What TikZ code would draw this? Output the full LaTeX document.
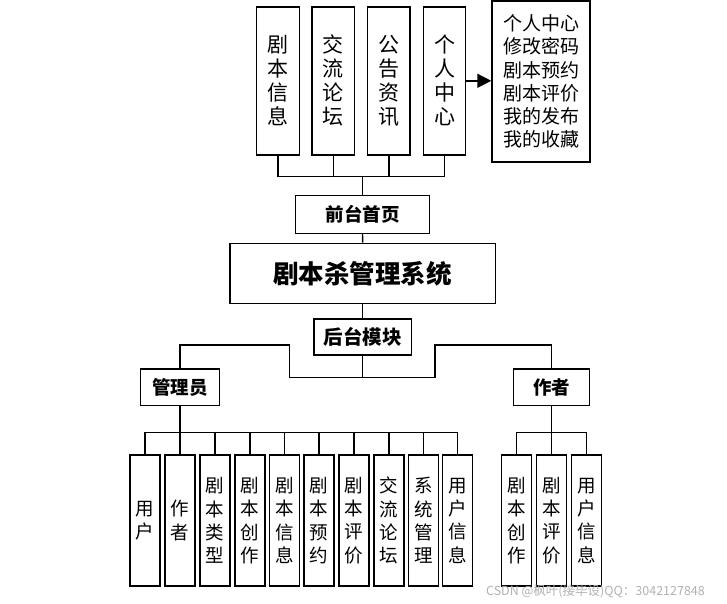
\documentclass[tikz,border=0pt]{standalone}
\usepackage{fontspec}
\setmainfont{Noto Sans CJK SC}
\usetikzlibrary{arrows.meta}
\begin{document}
\begin{tikzpicture}[x=1pt,y=-1pt,line width=1.4pt,line join=miter,
  tbox/.style={draw, minimum width=42.5pt, minimum height=148pt, inner sep=0pt, align=center, font=\fontsize{21}{24}\selectfont},
  leaf/.style={draw, minimum width=30pt, minimum height=131pt, inner sep=0pt, align=center, font=\fontsize{18.5}{23.3}\selectfont},
  hbox/.style={draw, inner sep=0pt, font=\bfseries\fontsize{18.5}{22}\selectfont},
  conn/.style={draw, line width=1.4pt}]
\fill[white] (0,0) rectangle (727,603);
\useasboundingbox (0,0) rectangle (727,603);
% top row
\node[tbox] (T1) at (278,80.8) {剧\\本\\信\\息};
\node[tbox] (T2) at (333.2,80.8) {交\\流\\论\\坛};
\node[tbox] (T3) at (388.8,80.8) {公\\告\\资\\讯};
\node[tbox] (T4) at (444.5,80.8) {个\\人\\中\\心};
\node[draw, minimum width=98pt, minimum height=161pt, inner sep=0pt, align=center, font=\fontsize{19}{23.3}\selectfont] (R) at (541,81.5)
  {个人中心\\修改密码\\剧本预约\\剧本评价\\我的发布\\我的收藏};
\node[hbox, minimum width=133.6pt, minimum height=37.6pt] (F) at (362.5,214.5) {前台首页};
\node[hbox, minimum width=265.3pt, minimum height=60pt, font=\bfseries\fontsize{25.5}{30}\selectfont] (M) at (362.7,273.3) {剧本杀管理系统};
\node[hbox, minimum width=97.3pt, minimum height=36pt, font=\bfseries\fontsize{19.5}{23}\selectfont] (B) at (362.7,337) {后台模块};
\node[hbox, minimum width=78.6pt, minimum height=36.3pt] (A) at (180,387.2) {管理员};
\node[hbox, minimum width=75.6pt, minimum height=36.3pt] (Z) at (551.5,387.2) {作者};
% admin leaves
\node[leaf] (L1) at (145,520.5) {用\\户};
\node[leaf] (L2) at (180,520.5) {作\\者};
\node[leaf] (L3) at (215,520.5) {剧\\本\\类\\型};
\node[leaf] (L4) at (250,520.5) {剧\\本\\创\\作};
\node[leaf] (L5) at (284.5,520.5) {剧\\本\\信\\息};
\node[leaf] (L6) at (319,520.5) {剧\\本\\预\\约};
\node[leaf] (L7) at (354,520.5) {剧\\本\\评\\价};
\node[leaf] (L8) at (389,520.5) {交\\流\\论\\坛};
\node[leaf] (L9) at (423.5,520.5) {系\\统\\管\\理};
\node[leaf] (L10) at (457.7,520.5) {用\\户\\信\\息};
% author leaves
\node[leaf] (Z1) at (516.7,520.5) {剧\\本\\创\\作};
\node[leaf] (Z2) at (551.5,520.5) {剧\\本\\评\\价};
\node[leaf] (Z3) at (586.3,520.5) {用\\户\\信\\息};
% junctions
\coordinate (jT) at (362.5,176.7);
\coordinate (jB) at (362.7,377.7);
\coordinate (kL) at (289.3,345);
\coordinate (kR) at (435,345);
\coordinate (jA) at (180,432.7);
\coordinate (jZ) at (551.5,432.7);
% top connectors
\draw[conn] (T1.south) |- (jT);
\draw[conn] (T4.south) |- (jT);
\draw[conn] (T2.south) -- (T2.south |- jT);
\draw[conn] (T3.south) -- (T3.south |- jT);
\draw[conn] (jT) -- (F.north);
\draw[conn, -{Triangle[length=14pt,width=14pt]}] (T4.east) -- (R.west |- T4.east);
\draw[conn] (F.south) -- (M.north);
\draw[conn] (M.south) -- (B.north);
\draw[conn] (B.south) -- (jB);
\draw[conn] (A.north) |- (kL) |- (jB) -| (kR) -| (Z.north);
% admin bus
\draw[conn] (A.south) -- (jA);
\foreach \n in {L1,L2,L3,L4,L5,L6,L7,L8,L9,L10} {\draw[conn] (\n.north) |- (jA);}
% author bus
\draw[conn] (Z.south) -- (jZ);
\foreach \n in {Z1,Z2,Z3} {\draw[conn] (\n.north) |- (jZ);}
% watermark
\node[text=black!30, inner sep=0pt, font=\fontsize{12.5}{14}\selectfont] (W) at (595.5,591) {CSDN @枫叶(接毕设)QQ：3042127848};
\end{tikzpicture}
\end{document}
